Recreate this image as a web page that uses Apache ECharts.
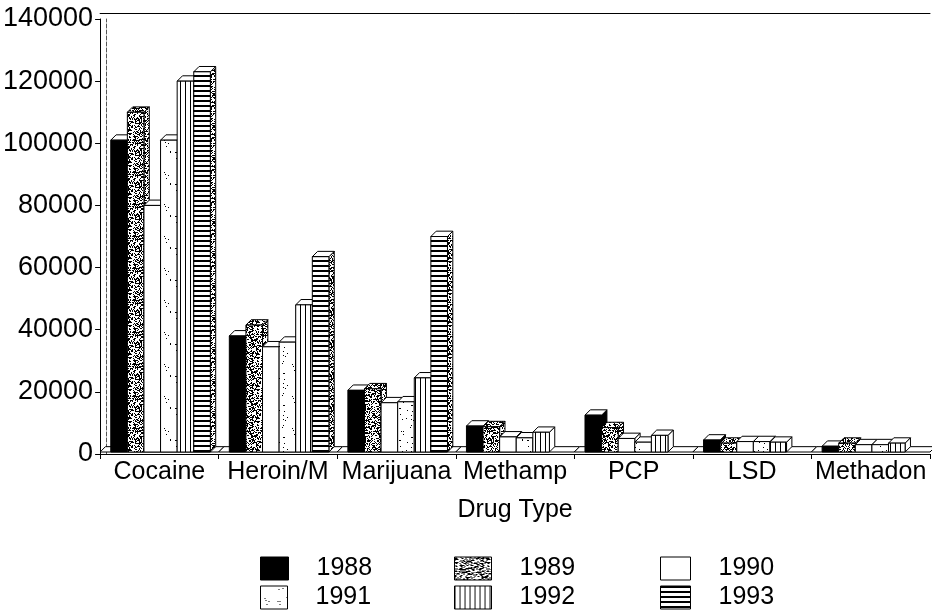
<!DOCTYPE html>
<html>
<head>
<meta charset="utf-8">
<script src="https://cdn.jsdelivr.net/npm/echarts@6/dist/echarts.min.js"></script>
<style>
  html, body { margin: 0; padding: 0; background: #fff; }
  #chart { width: 932px; height: 610px; }
</style>
</head>
<body>
<div id="chart"></div>
<script>
// 数据
const drugTypes = ['Cocaine', 'Heroin/M', 'Marijuana', 'Methamp', 'PCP', 'LSD', 'Methadon']
const years = ['1988', '1989', '1990', '1991', '1992', '1993']
const v1988 = [101000, 38000, 20500, 9000, 12500, 4500, 2500]
const v1989 = [110000, 41500, 21000, 8800, 8500, 3500, 3500]
const v1990 = [80000, 34500, 16500, 5500, 5000, 4000, 3000]
const v1991 = [101000, 36000, 16800, 5200, 3800, 4000, 3000]
const v1992 = [120000, 48000, 24500, 7000, 6000, 3800, 3500]
const v1993 = [123000, 63500, 70000, null, null, null, null]
const yTicks = [0, 140000, 20000] // min, max, interval

const seriesValues = [v1988, v1989, v1990, v1991, v1992, v1993]
const font = 'Liberation Sans, Arial, sans-serif'

// 填充图案
function makeCanvas(w, h) {
  const c = document.createElement('canvas')
  c.width = w
  c.height = h
  return c
}
function speckle(density) {
  const c = makeCanvas(32, 32)
  const ctx = c.getContext('2d')
  ctx.fillStyle = '#fff'
  ctx.fillRect(0, 0, 32, 32)
  ctx.fillStyle = '#000'
  let s = 12345
  for (let y = 0; y < 32; y++) {
    for (let x = 0; x < 32; x++) {
      s = (s * 1103515245 + 12345) % 2147483648
      if (s / 2147483648 < density) ctx.fillRect(x, y, 1, 1)
    }
  }
  return { image: c, repeat: 'repeat' }
}
function vLines() {
  const c = makeCanvas(5, 5)
  const ctx = c.getContext('2d')
  ctx.fillStyle = '#fff'
  ctx.fillRect(0, 0, 5, 5)
  ctx.fillStyle = '#000'
  ctx.fillRect(0, 0, 1, 5)
  return { image: c, repeat: 'repeat' }
}
function hLines() {
  const c = makeCanvas(5, 5)
  const ctx = c.getContext('2d')
  ctx.fillStyle = '#fff'
  ctx.fillRect(0, 0, 5, 5)
  ctx.fillStyle = '#000'
  ctx.fillRect(0, 0, 5, 2)
  return { image: c, repeat: 'repeat' }
}

const dots = speckle(0.45)
const lightDots = speckle(0.02)
const fronts = ['#000', dots, '#fff', lightDots, vLines(), hLines()]
const tops = ['#fff', dots, '#fff', '#fff', '#fff', '#fff']
const sides = ['#000', dots, '#fff', '#fff', '#fff', dots]

// 三维柱子
function barRenderer(k) {
  return function (params, api) {
    const cat = api.value(0)
    const val = api.value(1)
    const base = api.coord([cat, 0])
    const top = api.coord([cat, val])
    const band = api.size([1, 0])[0]
    const w = band * 0.14
    const d = band * 0.045
    const x0 = base[0] - band / 2 + band * 0.09 + k * w
    const by = base[1] - 2
    const ty = top[1]
    const line = { stroke: '#000', lineWidth: 1 }
    return {
      type: 'group',
      children: [
        { type: 'polygon', shape: { points: [[x0 + w, ty], [x0 + w + d, ty - d], [x0 + w + d, by - d], [x0 + w, by]] },
          style: Object.assign({ fill: sides[k] }, line) },
        { type: 'polygon', shape: { points: [[x0, ty], [x0 + w, ty], [x0 + w + d, ty - d], [x0 + d, ty - d]] },
          style: Object.assign({ fill: tops[k] }, line) },
        { type: 'rect', shape: { x: x0, y: ty, width: w, height: by - ty },
          style: Object.assign({ fill: fronts[k] }, line) }
      ]
    }
  }
}

// 地板
function floorRenderer(params, api) {
  const cat = api.value(0)
  const base = api.coord([cat, 0])
  const band = api.size([1, 0])[0]
  const d = band * 0.045
  const x0 = base[0] - band / 2
  const y0 = base[1] - 2
  return {
    type: 'polygon',
    shape: { points: [[x0, y0], [x0 + band, y0], [x0 + band + d, y0 - d], [x0 + d, y0 - d]] },
    style: { fill: '#fff', stroke: '#000', lineWidth: 1 }
  }
}

const chart = echarts.init(document.getElementById('chart'))

const barSeries = years.map((name, k) => ({
  name: name,
  type: 'custom',
  renderItem: barRenderer(k),
  encode: { x: 0, y: 1 },
  clip: false,
  z: 3,
  itemStyle: { color: k === 0 ? '#000' : '#fff' },
  data: seriesValues[k].map((v, i) => [i, v]).filter(p => p[1] !== null)
}))

const legendX = [255, 449, 655]
const legendY = [551, 580]
const legendW = [28, 37, 30, 27, 37, 30]

const option = {
  animation: false,
  grid: { left: 100, right: 2, top: 19, bottom: 156 },
  xAxis: [{
    type: 'category',
    data: drugTypes,
    name: 'Drug Type',
    nameLocation: 'middle',
    nameGap: 44,
    nameTextStyle: { fontSize: 25, color: '#000', fontFamily: font },
    axisLine: { lineStyle: { color: '#000', width: 1 } },
    axisTick: { show: true, length: 5, lineStyle: { color: '#000' } },
    axisLabel: { fontSize: 25, color: '#000', fontFamily: font, margin: 6, interval: 0 },
    splitLine: { show: false }
  }, {
    type: 'category',
    data: drugTypes,
    position: 'top',
    offset: 6,
    axisLine: { show: true, onZero: false, lineStyle: { color: '#000', width: 1 } },
    axisTick: { show: false },
    axisLabel: { show: false }
  }],
  yAxis: [{
    type: 'value',
    min: yTicks[0],
    max: yTicks[1],
    interval: yTicks[2],
    axisLine: { show: true, lineStyle: { color: '#000', width: 1 } },
    axisTick: { show: true, length: 5, lineStyle: { color: '#000' } },
    axisLabel: { fontSize: 27, color: '#000', fontFamily: font, margin: 7, formatter: v => String(v) },
    splitLine: { show: false }
  }, {
    type: 'value',
    min: yTicks[0],
    max: yTicks[1],
    interval: yTicks[2],
    position: 'left',
    offset: -6,
    axisLine: { show: true, onZero: false, lineStyle: { color: '#555', width: 1, type: [4, 2] } },
    axisTick: { show: false },
    axisLabel: { show: false },
    splitLine: { show: false }
  }],
  legend: years.map((name, k) => ({
    data: [{ name: name, icon: 'rect', itemStyle: { color: fronts[k], borderColor: '#000', borderWidth: 1 } }],
    left: legendX[k % 3],
    top: legendY[Math.floor(k / 3)],
    itemWidth: legendW[k],
    itemHeight: 23,
    selectedMode: false,
    formatter: n => '{g|}' + n,
    textStyle: {
      fontSize: 25, color: '#000', fontFamily: font,
      rich: { g: { width: 23 } }
    }
  })),
  series: [{
    type: 'custom',
    renderItem: floorRenderer,
    encode: { x: 0 },
    clip: false,
    z: 2,
    silent: true,
    data: drugTypes.map((c, i) => [i])
  }].concat(barSeries)
}

chart.setOption(option)
</script>
</body>
</html>
